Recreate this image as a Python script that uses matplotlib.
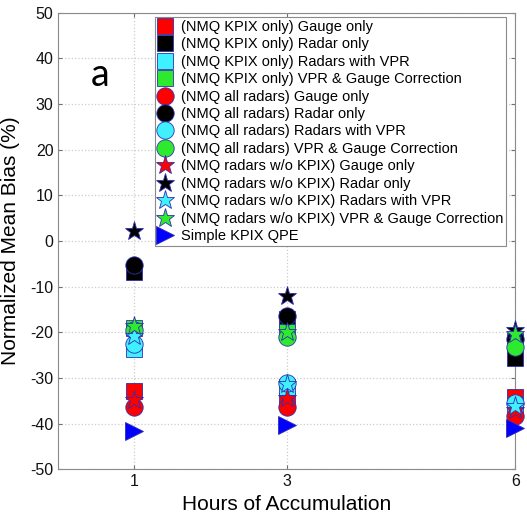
import matplotlib
matplotlib.use("Agg")
import matplotlib.pyplot as plt

hours = [1, 3, 6]
x_ticks = [1, 3, 6]
y_ticks = list(range(-50, 51, 10))

labels = [
    "(NMQ KPIX only) Gauge only",
    "(NMQ KPIX only) Radar only",
    "(NMQ KPIX only) Radars with VPR",
    "(NMQ KPIX only) VPR & Gauge Correction",
    "(NMQ all radars) Gauge only",
    "(NMQ all radars) Radar only",
    "(NMQ all radars) Radars with VPR",
    "(NMQ all radars) VPR & Gauge Correction",
    "(NMQ radars w/o KPIX) Gauge only",
    "(NMQ radars w/o KPIX) Radar only",
    "(NMQ radars w/o KPIX) Radars with VPR",
    "(NMQ radars w/o KPIX) VPR & Gauge Correction",
    "Simple KPIX QPE",
]

kpix_gauge = [-32.8, -35.0, -34.1]
kpix_radar = [-6.7, -17.0, -25.7]
kpix_vpr = [-23.6, -32.0, -36.0]
kpix_vprg = [-19.0, -20.0, -22.0]
all_gauge = [-36.4, -36.4, -38.4]
all_radar = [-5.3, -16.5, -21.5]
all_vpr = [-22.5, -31.2, -35.5]
all_vprg = [-19.6, -21.0, -23.2]
wo_gauge = [-34.9, -34.4, -37.0]
wo_radar = [2.3, -12.0, -19.4]
wo_vpr = [-20.7, -31.3, -36.2]
wo_vprg = [-18.7, -19.9, -20.3]
simple_kpix = [-41.7, -40.4, -41.0]

series = [kpix_gauge, kpix_radar, kpix_vpr, kpix_vprg,
          all_gauge, all_radar, all_vpr, all_vprg,
          wo_gauge, wo_radar, wo_vpr, wo_vprg, simple_kpix]

RED, BLACK, CYAN, GREEN, BLUE = "#ff0000", "#000000", "#3ff0ff", "#2eea2e", "#0000ff"
colors = [RED, BLACK, CYAN, GREEN] * 3 + [BLUE]
markers = ["s"] * 4 + ["o"] * 4 + ["*"] * 4 + [">"]
sizes = [11.5] * 4 + [12.5] * 4 + [14] * 4 + [12.5]

plt.rcParams["font.family"] = ["Liberation Sans", "DejaVu Sans"]
plt.rcParams["axes.unicode_minus"] = False

fig = plt.figure(figsize=(5.27, 5.13), dpi=100)
ax = fig.add_axes([0.1106, 0.0852, 0.9778 - 0.1106, 0.9752 - 0.0852])

handles = []
for vals, c, m, s, lab in zip(series, colors, markers, sizes, labels):
    h, = ax.plot(hours, vals, linestyle="none", marker=m, markersize=s,
                 markerfacecolor=c, markeredgecolor="#3030b0",
                 markeredgewidth=0.6, label=lab, clip_on=False, zorder=3)
    handles.append(h)

ax.set_xlim(0, 6)
ax.set_ylim(-50, 50)
ax.set_xticks(x_ticks)
ax.set_yticks(y_ticks)
ax.tick_params(axis="both", direction="in", length=3, labelsize=11.5,
               top=True, right=True, colors="#707070", labelcolor="#111111")
ax.grid(True, linestyle=":", color="#cccccc", linewidth=0.9)
ax.set_axisbelow(True)
for sp in ax.spines.values():
    sp.set_color("#8a8a8a")

ax.set_xlabel("Hours of Accumulation", fontsize=15, labelpad=4)
ax.set_ylabel("Normalized Mean Bias (%)", fontsize=15, labelpad=7)

ax.text(100 / 527, 1 - 75 / 513, "a", transform=fig.transFigure,
        fontsize=27, family=["Lato", "DejaVu Sans"], ha="center", va="center")

leg = ax.legend(handles=handles, loc="upper left",
                bbox_to_anchor=(155 / 527, 1 - 17 / 513),
                bbox_transform=fig.transFigure, fontsize=10.5,
                labelspacing=0.235, handlelength=1.0, handletextpad=0.55,
                borderpad=0.2, borderaxespad=0, fancybox=False,
                framealpha=1, edgecolor="#8a8a8a", markerscale=1.0)
leg.get_frame().set_linewidth(0.8)

fig.savefig("out.png", dpi=100)
